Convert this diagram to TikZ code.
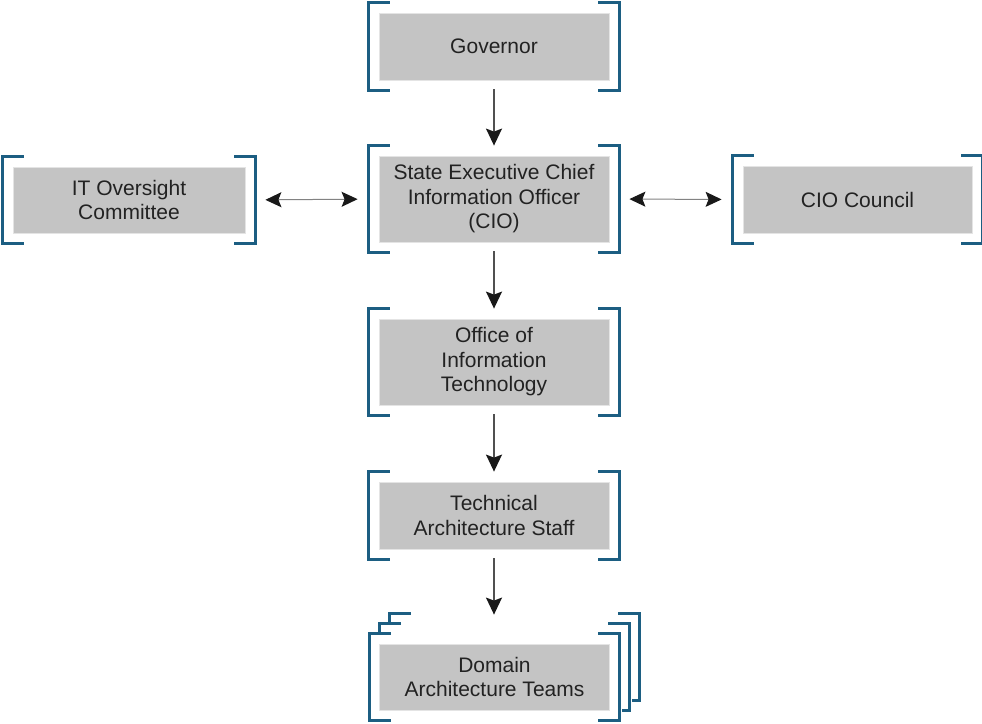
\documentclass[tikz,border=0pt]{standalone}
\usepackage{fontspec}
\setmainfont{Liberation Sans}
\usetikzlibrary{calc,arrows.meta}
\pgfdeclarelayer{background}
\pgfsetlayers{background,main}

\definecolor{bracketblue}{RGB}{28,94,130}
\definecolor{boxgray}{RGB}{196,196,196}
\definecolor{boxedge}{RGB}{228,228,228}
\definecolor{textdark}{RGB}{34,34,34}
\definecolor{linegray}{RGB}{80,80,80}
\definecolor{thingray}{RGB}{130,130,130}

\tikzset{
  orgbox/.style={rectangle, fill=boxgray, draw=boxedge, line width=0.8pt,
    inner sep=0pt, minimum width=230pt, minimum height=67pt,
    align=center, text=textdark, font=\fontsize{21}{24.5}\selectfont},
  bracketline/.style={draw=bracketblue, line width=3pt, line cap=rect, line join=miter},
  downarrow/.style={draw=linegray, line width=1.5pt,
    -{Stealth[length=17pt,width=16pt,inset=3pt,color=black!90]},
    shorten <=9pt, shorten >=10pt},
  sidearrow/.style={draw=thingray, line width=1pt,
    {Stealth[length=16pt,width=15pt,inset=3pt,color=black!90]}-{Stealth[length=16pt,width=15pt,inset=3pt,color=black!90]},
    shorten <=20pt, shorten >=21pt},
}

% square brackets on both sides of a box; #1 shifts them right and up
\newcommand\drawbrackets[2][0]{%
  \draw[bracketline]
    ($(#2.north west)+(10+#1,-10-#1)$) -- ++(-20,0)
    -- ($(#2.south west)+(-10+#1,10-#1)$) -- ++(20,0);
  \draw[bracketline]
    ($(#2.north east)+(-10+#1,-10-#1)$) -- ++(20,0)
    -- ($(#2.south east)+(10+#1,10-#1)$) -- ++(-20,0);
}
% white card behind a box, shifted right and up by #1
\newcommand\blankcard[2][0]{%
  \fill[white] ($(#2.north west)+(-12+#1,-12-#1)$) rectangle ($(#2.south east)+(12+#1,12-#1)$);
}

\begin{document}
\begin{tikzpicture}[x=1pt,y=-1pt]
  \useasboundingbox (0,0) rectangle (982,723);

  \node[orgbox] (gov) at (494,46.5) {Governor};
  \node[orgbox, minimum height=86pt] (cio) at (494,199)
    {State Executive Chief\\Information Officer\\(CIO)};
  \node[orgbox, minimum width=232pt, minimum height=66pt] (ito) at (129,200)
    {IT Oversight\\Committee};
  \node[orgbox, minimum width=229pt] (cou) at (857.5,199.5) {CIO Council};
  \node[orgbox, minimum height=86pt] (oit) at (494,362)
    {Office of\\Information\\Technology};
  \node[orgbox] (tas) at (494,515.5) {Technical\\Architecture Staff};
  \node[orgbox, minimum height=66pt] (dat) at (494.5,677)
    {Domain\\Architecture Teams};

  \foreach \n in {gov,cio,ito,cou,oit,tas,dat} {\drawbrackets{\n}}

  % stacked cards behind the domain teams box
  \begin{pgfonlayer}{background}
    \drawbrackets[20]{dat}
    \blankcard[10]{dat}
    \drawbrackets[10]{dat}
    \blankcard{dat}
  \end{pgfonlayer}

  \draw[downarrow] (gov) -- (cio);
  \draw[downarrow] (cio) -- (oit);
  \draw[downarrow] (oit) -- (tas);
  \draw[downarrow, shorten >=29pt] (tas.south) -- (tas.south |- dat.north);

  \draw[sidearrow] (ito.east) -- (cio.west);
  \draw[sidearrow] (cio.east) -- (cou.west);
\end{tikzpicture}
\end{document}
